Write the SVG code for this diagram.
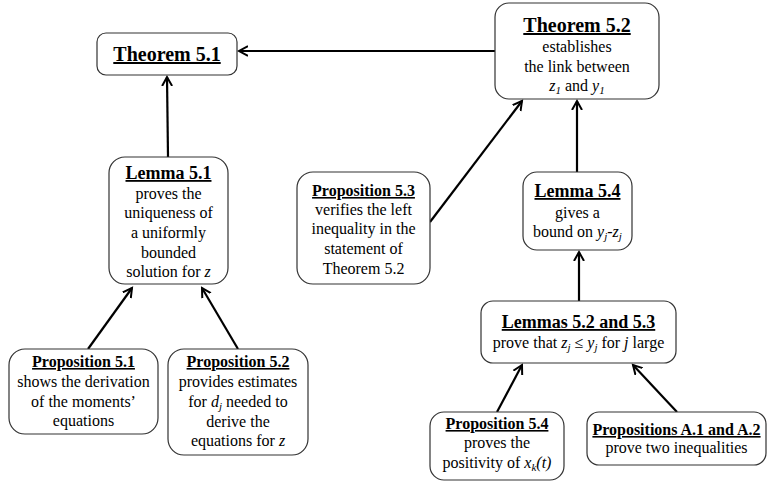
<svg xmlns="http://www.w3.org/2000/svg" width="768" height="483" viewBox="0 0 768 483" font-family="'Liberation Serif', 'Times New Roman', 'DejaVu Serif', serif">
<style>
text{font-family:'Liberation Serif','Times New Roman','DejaVu Serif',serif;font-size:16px;fill:#000;text-anchor:middle}
.t{font-weight:bold;text-decoration:underline}
.big{font-size:20px}
.mid{font-size:18px}
.box{fill:#fff;stroke:#333;stroke-width:1.2}
.i{font-style:italic}
.s{font-size:11px;font-style:italic}
.c line{stroke:#000;stroke-width:2.2;marker-end:url(#ah)}
</style>
<defs>
<marker id="ah" markerUnits="userSpaceOnUse" markerWidth="12" markerHeight="12" refX="9" refY="5" orient="auto" viewBox="0 0 12 10">
<path d="M0,0 L9,5 L0,10" fill="none" stroke="#000" stroke-width="2"/>
</marker>
</defs>
<rect width="768" height="483" fill="#fff"/>
<g class="c" id="connectors">
<line x1="495" y1="51" x2="239" y2="51"/>
<line x1="168" y1="157" x2="167" y2="77"/>
<line x1="88" y1="349" x2="132" y2="288"/>
<line x1="238" y1="349" x2="202" y2="288"/>
<line x1="430" y1="222" x2="522" y2="101"/>
<line x1="577" y1="172" x2="577" y2="101"/>
<line x1="579" y1="301" x2="579" y2="252"/>
<line x1="497" y1="412" x2="522" y2="365"/>
<line x1="677" y1="412" x2="633" y2="365"/>
</g>
<g id="thm51">
<rect class="box" x="97" y="33" width="140" height="42" rx="9"/>
<text class="t big" x="167" y="61">Theorem 5.1</text>
</g>
<g id="thm52">
<rect class="box" x="495" y="3" width="164" height="96" rx="14"/>
<text class="t big" x="577" y="32">Theorem 5.2</text>
<text x="577" y="52">establishes</text>
<text x="577" y="72">the link between</text>
<text x="577" y="91"><tspan class="i">z</tspan><tspan class="s" dy="3">1</tspan><tspan dy="-3"> and </tspan><tspan class="i">y</tspan><tspan class="s" dy="3">1</tspan></text>
</g>
<g id="lem51">
<rect class="box" x="109" y="157" width="119" height="127" rx="16"/>
<text class="t mid" x="168.5" y="179">Lemma 5.1</text>
<text x="168.5" y="199">proves the</text>
<text x="168.5" y="218">uniqueness of</text>
<text x="168.5" y="238">a uniformly</text>
<text x="168.5" y="258">bounded</text>
<text x="168.5" y="277">solution for <tspan class="i">z</tspan></text>
</g>
<g id="prop53">
<rect class="box" x="297" y="172" width="133" height="112" rx="16"/>
<text class="t" x="363.5" y="196">Proposition 5.3</text>
<text x="363.5" y="215">verifies the left</text>
<text x="363.5" y="234">inequality in the</text>
<text x="363.5" y="254">statement of</text>
<text x="363.5" y="274">Theorem 5.2</text>
</g>
<g id="lem54">
<rect class="box" x="523" y="172" width="109" height="78" rx="14"/>
<text class="t mid" x="577.5" y="197">Lemma 5.4</text>
<text x="577.5" y="218">gives a</text>
<text x="577.5" y="237">bound on <tspan class="i">y</tspan><tspan class="s" dy="3">j</tspan><tspan dy="-3">-</tspan><tspan class="i">z</tspan><tspan class="s" dy="3">j</tspan></text>
</g>
<g id="lem5253">
<rect class="box" x="481" y="301" width="195" height="62" rx="12"/>
<text class="t mid" x="578.5" y="328">Lemmas 5.2 and 5.3</text>
<text x="578.5" y="348">prove that <tspan class="i">z</tspan><tspan class="s" dy="3">j</tspan><tspan dy="-3"> ≤ </tspan><tspan class="i">y</tspan><tspan class="s" dy="3">j</tspan><tspan dy="-3"> for </tspan><tspan class="i">j</tspan> large</text>
</g>
<g id="prop51">
<rect class="box" x="9" y="349" width="149" height="85" rx="16"/>
<text class="t" x="83.5" y="367">Proposition 5.1</text>
<text x="83.5" y="387">shows the derivation</text>
<text x="83.5" y="407">of the moments’</text>
<text x="83.5" y="426">equations</text>
</g>
<g id="prop52">
<rect class="box" x="168" y="349" width="140" height="106" rx="16"/>
<text class="t" x="238" y="367">Proposition 5.2</text>
<text x="238" y="387">provides estimates</text>
<text x="238" y="407">for <tspan class="i">d</tspan><tspan class="s" dy="3">j</tspan><tspan dy="-3"> needed to</tspan></text>
<text x="238" y="427">derive the</text>
<text x="238" y="446">equations for <tspan class="i">z</tspan></text>
</g>
<g id="prop54">
<rect class="box" x="430" y="412" width="134" height="68" rx="14"/>
<text class="t" x="497" y="429">Proposition 5.4</text>
<text x="497" y="448">proves the</text>
<text x="497" y="468">positivity of <tspan class="i">x</tspan><tspan class="s" dy="3">k</tspan><tspan class="i" dy="-3">(t)</tspan></text>
</g>
<g id="propA">
<rect class="box" x="587" y="412" width="179" height="53" rx="12"/>
<text class="t" x="676.5" y="435">Propositions A.1 and A.2</text>
<text x="676.5" y="453">prove two inequalities</text>
</g>
</svg>
